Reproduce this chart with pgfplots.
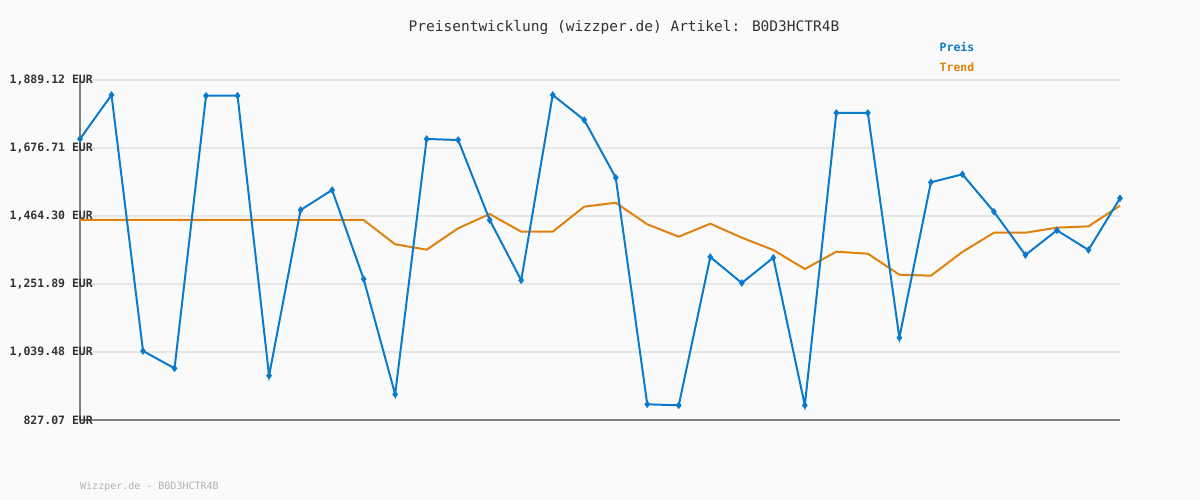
\documentclass[border=0pt]{standalone}
\usepackage{pgfplots}
\pgfplotsset{compat=1.18}
\usepackage{fontspec}
\setmainfont{DejaVu Sans Mono}
\setmonofont{DejaVu Sans Mono}
\definecolor{bgc}{HTML}{FAFAFA}
\definecolor{gridc}{HTML}{E6E6E6}
\definecolor{axisgray}{HTML}{808080}
\definecolor{preis}{HTML}{0A7BCC}
\definecolor{trend}{HTML}{E0820E}
\definecolor{txt}{HTML}{333333}
\begin{document}
\begin{tikzpicture}
\fill[bgc] (0pt,0pt) rectangle (1200pt,500pt);
\begin{axis}[
  at={(80pt,80pt)}, anchor=south west,
  scale only axis, width=1040pt, height=340pt,
  xmin=0, xmax=33, ymin=827.07, ymax=1889.12,
  clip=false,
  axis x line*=bottom, axis y line*=left,
  axis line style={color=axisgray, line width=2.5pt, -},
  x axis line style={color=axisgray, line width=2.5pt, -},
  y axis line style={color=axisgray, line width=2.5pt, -},
  xtick=\empty,
  ytick={827.07,1039.48,1251.89,1464.30,1676.71,1889.12},
  yticklabels={{827.07 EUR},{1,039.48 EUR},{1,251.89 EUR},{1,464.30 EUR},{1,676.71 EUR},{1,889.12 EUR}},
  yticklabel style={anchor=east, inner sep=0pt, xshift=13pt, font=\fontsize{11.5}{12}\selectfont\bfseries, text=txt},
  major tick length=0pt,
  ymajorgrids, major grid style={color=gridc, line width=2pt},
]
\addplot[trend, line width=2pt, no marks] coordinates {
(0,1451.8)(1,1451.8)(2,1451.8)(3,1451.8)(4,1451.8)(5,1451.8)(6,1451.8)(7,1451.8)(8,1451.8)(9,1451.8)
(10,1375.9)(11,1359.0)(12,1425.9)(13,1470.5)(14,1415.3)(15,1415.3)(16,1493.4)(17,1505.8)
(18,1438.3)(19,1399.7)(20,1440.2)(21,1396.6)(22,1358.1)(23,1298.7)(24,1352.8)(25,1346.6)
(26,1280.9)(27,1277.8)(28,1352.0)(29,1412.1)(30,1412.1)(31,1427.8)(32,1432.0)(33,1496.5)};
\addplot[preis, line width=2pt, mark=diamond*, mark size=2.2pt] coordinates {
(0,1704.9)(1,1842.3)(2,1042.6)(3,988.5)(4,1840.0)(5,1840.0)(6,965.5)(7,1483.0)(8,1545.5)
(9,1267.5)(10,907.3)(11,1704.9)(12,1701.7)(13,1451.8)(14,1263.5)(15,1842.3)(16,1764.2)
(17,1584.0)(18,876.1)(19,872.9)(20,1336.2)(21,1255.0)(22,1334.0)(23,872.9)(24,1786.1)
(25,1786.1)(26,1084.2)(27,1569.6)(28,1594.5)(29,1477.8)(30,1342.5)(31,1419.6)(32,1358.1)(33,1519.6)};
\end{axis}
\node[text=txt, font=\fontsize{14.5}{16}\selectfont] at (624pt,472pt) {Preisentwicklung (wizzper.de) Artikel: B0D3HCTR4B};
\node[text=preis, font=\fontsize{11.5}{12}\selectfont\bfseries] at (957pt,453pt) {Preis};
\node[text=trend, font=\fontsize{11.5}{12}\selectfont\bfseries] at (957pt,433pt) {Trend};
\node[text=black!30, font=\fontsize{10}{11}\selectfont, anchor=west, inner sep=0pt] at (80pt,13pt) {Wizzper.de - B0D3HCTR4B};
\end{tikzpicture}
\end{document}
